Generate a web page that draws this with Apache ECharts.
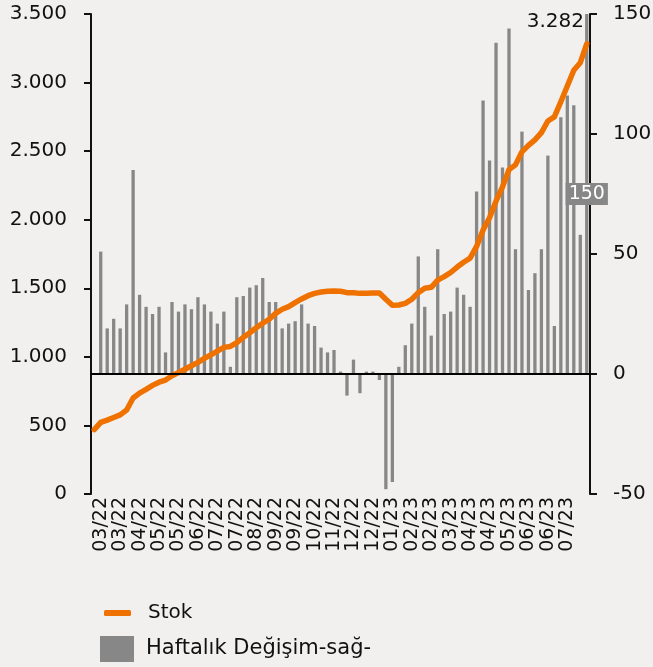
<!DOCTYPE html>
<html>
<head>
<meta charset="utf-8">
<script src="https://cdn.jsdelivr.net/npm/echarts@6/dist/echarts.min.js"></script>
<style>
  html, body { margin: 0; background: #f1f0ee; }
  #chart { width: 653px; height: 667px; }
</style>
</head>
<body>
<div id="chart"></div>
<script>
// haftalik veri, cuma kapanislari (ilk hafta sadece stok icin)
const kategoriler = [
  '02/22',
  '03/22', '03/22', '03/22', '03/22',
  '04/22', '04/22', '04/22', '04/22', '04/22',
  '05/22', '05/22', '05/22', '05/22',
  '06/22', '06/22', '06/22', '06/22',
  '07/22', '07/22', '07/22', '07/22', '07/22',
  '08/22', '08/22', '08/22', '08/22',
  '09/22', '09/22', '09/22', '09/22', '09/22',
  '10/22', '10/22', '10/22', '10/22',
  '11/22', '11/22', '11/22', '11/22',
  '12/22', '12/22', '12/22', '12/22', '12/22',
  '01/23', '01/23', '01/23', '01/23',
  '02/23', '02/23', '02/23', '02/23',
  '03/23', '03/23', '03/23', '03/23', '03/23',
  '04/23', '04/23', '04/23', '04/23',
  '05/23', '05/23', '05/23', '05/23',
  '06/23', '06/23', '06/23', '06/23', '06/23',
  '07/23', '07/23', '07/23', '07/23',
  '08/23', '08/23'
];

// Stok (sol eksen)
const stok = [
  470, 522, 539, 558, 577, 612, 700, 736, 763, 792,
  815, 831, 862, 885, 910, 935, 960, 989, 1015, 1042,
  1069, 1076, 1103, 1142, 1176, 1212, 1245, 1274, 1317, 1347,
  1366, 1395, 1422, 1446, 1463, 1473, 1478, 1480, 1478, 1468,
  1468, 1463, 1463, 1466, 1466, 1420, 1376, 1378, 1390, 1420,
  1468, 1500, 1507, 1560, 1585, 1615, 1655, 1690, 1720, 1805,
  1925, 2015, 2135, 2240, 2365, 2400, 2495, 2542, 2582, 2635,
  2720, 2750, 2860, 2975, 3090, 3145, 3282
];

// Haftalik degisim (sag eksen)
const haftalik = [
  null, 51, 19, 23, 19, 29, 85, 33, 28, 25,
  28, 9, 30, 26, 29, 27, 32, 29, 26, 21,
  26, 3, 32, 32.5, 36, 37, 40, 30, 30, 19,
  21, 22, 29, 21, 20, 11, 9, 10, 1, -9,
  6, -8, 1, 1, -2.5, -48, -45, 3, 12, 21,
  49, 28, 16, 52, 25, 26, 36, 33, 28, 76,
  114, 89, 138, 86, 144, 52, 101, 35, 42, 52,
  91, 20, 107, 116, 112, 58, 150
];

const solTikler = { min: 0, max: 3500, interval: 500 };
const sagTikler = { min: -50, max: 150, interval: 50 };

const FONT = 'DejaVu Sans';
const SIYAH = '#111';
const GRI = '#878787';
const TURUNCU = '#ef7100';

// 1.500 gibi nokta ile binlik ayirma
const noktali = v => String(v).replace(/\B(?=(\d{3})+(?!\d))/g, '.');

const sonBar = haftalik.length - 1;
const barData = haftalik.map((v, i) => i === sonBar ? {
  value: v,
  label: {
    show: true, position: 'inside', formatter: '{c}',
    backgroundColor: GRI, color: '#fff', fontSize: 19, padding: [2, 3, 1, 3]
  }
} : v);

const eksenCizgi = { show: true, lineStyle: { color: SIYAH, width: 2 } };
const eksenTik = { show: true, length: 7, lineStyle: { color: SIYAH, width: 2 } };

const chart = echarts.init(document.getElementById('chart'));
chart.setOption({
  backgroundColor: '#f1f0ee',
  animation: false,
  textStyle: { fontFamily: FONT },
  grid: { left: 91, right: 63, top: 14, bottom: 173, outerBoundsMode: 'none' },
  legend: [
    {
      data: [{ name: 'Stok', icon: 'roundRect' }],
      left: 99, top: 598, itemWidth: 27, itemHeight: 6,
      textStyle: { fontSize: 20, color: SIYAH, padding: [0, 0, 0, 12] }
    },
    {
      data: [{ name: 'Haftalık Değişim-sağ-', icon: 'rect' }],
      left: 95, top: 631, itemWidth: 34, itemHeight: 26,
      textStyle: { fontSize: 21, color: SIYAH, padding: [0, 0, 0, 7] }
    }
  ],
  xAxis: {
    type: 'category',
    data: kategoriler,
    boundaryGap: true,
    axisLine: { show: false },
    axisTick: { show: false },
    axisLabel: {
      rotate: 90, margin: 3, fontSize: 19, color: SIYAH,
      hideOverlap: false,
      interval: i => i % 3 === 1 && i <= 73
    }
  },
  yAxis: [
    {
      type: 'value', position: 'left', ...solTikler,
      axisLine: eksenCizgi, axisTick: eksenTik, splitLine: { show: false },
      axisLabel: { formatter: noktali, margin: 24, fontSize: 20, color: SIYAH }
    },
    {
      type: 'value', position: 'right', ...sagTikler,
      axisLine: eksenCizgi, axisTick: eksenTik, splitLine: { show: false },
      axisLabel: { margin: 23, fontSize: 20, color: SIYAH }
    }
  ],
  series: [
    {
      name: 'Haftalık Değişim-sağ-',
      type: 'bar',
      yAxisIndex: 1,
      barWidth: 3.3,
      itemStyle: { color: GRI },
      data: barData,
      markLine: {
        silent: true, symbol: 'none', label: { show: false },
        lineStyle: { color: '#000', width: 2, type: 'solid' },
        data: [{ yAxis: 0 }]
      }
    },
    {
      name: 'Stok',
      type: 'line',
      yAxisIndex: 0,
      showSymbol: false,
      symbol: 'none',
      lineStyle: { color: TURUNCU, width: 5.5, cap: 'round', join: 'round' },
      itemStyle: { color: TURUNCU },
      data: stok,
      endLabel: {
        show: true, formatter: p => noktali(p.value),
        fontSize: 20, color: SIYAH, offset: [-68, -22]
      }
    }
  ]
});
</script>
</body>
</html>
